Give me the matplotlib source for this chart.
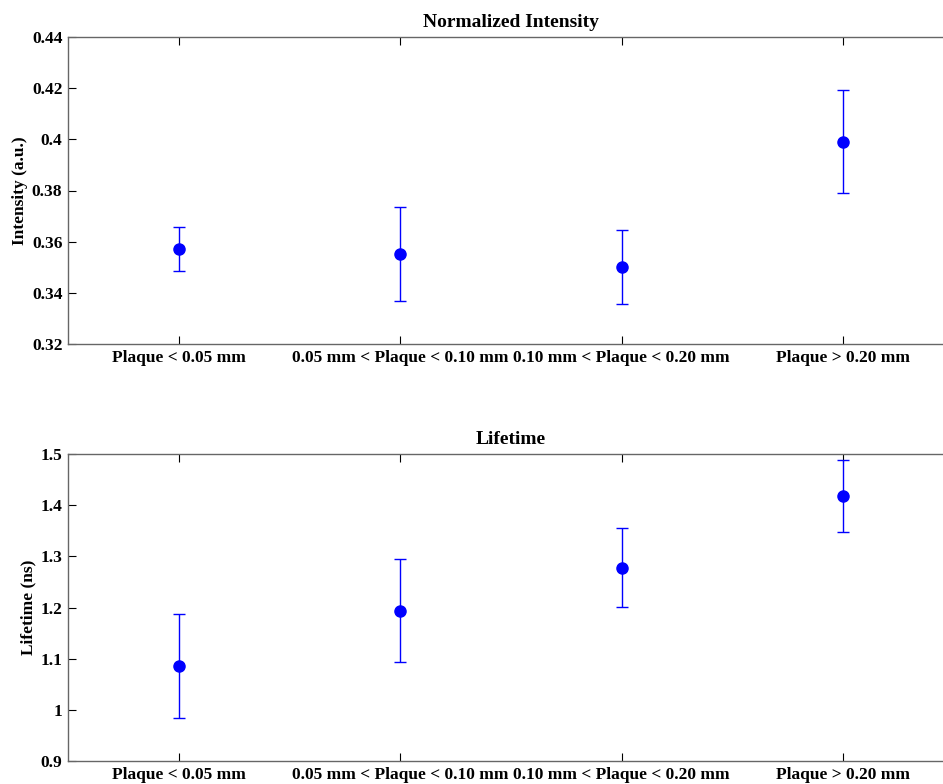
import matplotlib.pyplot as plt

plt.rcParams['font.family'] = 'Liberation Serif'
plt.rcParams['font.weight'] = 'bold'
plt.rcParams['font.size'] = 12.5

categories = ['Plaque < 0.05 mm', '0.05 mm < Plaque < 0.10 mm',
              '0.10 mm < Plaque < 0.20 mm', 'Plaque > 0.20 mm']
positions = [1, 2, 3, 4]

intensity = [0.357, 0.3552, 0.3502, 0.3991]
intensity_err = [0.0086, 0.0183, 0.0145, 0.020]

lifetime = [1.086, 1.194, 1.278, 1.418]
lifetime_err = [0.101, 0.100, 0.077, 0.071]

fig = plt.figure(figsize=(9.43, 7.84), dpi=100)
W, H = 943, 784


def make_axes(left, top, right, bottom):
    return fig.add_axes([left / W, 1 - bottom / H, (right - left) / W, (bottom - top) / H])


ax1 = make_axes(68, 37, 954, 344)
ax2 = make_axes(68, 454, 954, 761)

panels = [
    (ax1, intensity, intensity_err, 'Normalized Intensity', 'Intensity (a.u.)',
     (0.32, 0.44), [0.32, 0.34, 0.36, 0.38, 0.4, 0.42, 0.44]),
    (ax2, lifetime, lifetime_err, 'Lifetime', 'Lifetime (ns)',
     (0.9, 1.5), [0.9, 1.0, 1.1, 1.2, 1.3, 1.4, 1.5]),
]

for ax, vals, errs, title, ylabel, ylim, yticks in panels:
    ax.errorbar(positions, vals, yerr=errs, fmt='o', color='blue', ecolor='blue',
                elinewidth=1, capsize=4.5, capthick=1, markersize=8)
    ax.set_xlim(0.5, 4.5)
    ax.set_ylim(*ylim)
    ax.set_xticks(positions)
    ax.set_xticklabels(categories)
    ax.set_yticks(yticks)
    ax.set_yticklabels(['%g' % t for t in yticks])
    ax.set_title(title, fontsize=14, fontweight='bold', pad=7)
    ax.set_ylabel(ylabel, fontweight='bold', labelpad=3)
    ax.tick_params(direction='in', length=6, width=0.8, top=True, right=False,
                   colors='black', pad=4)
    for s in ax.spines.values():
        s.set_color('#666666')
        s.set_linewidth(1)

fig.savefig('out.png', dpi=100)
